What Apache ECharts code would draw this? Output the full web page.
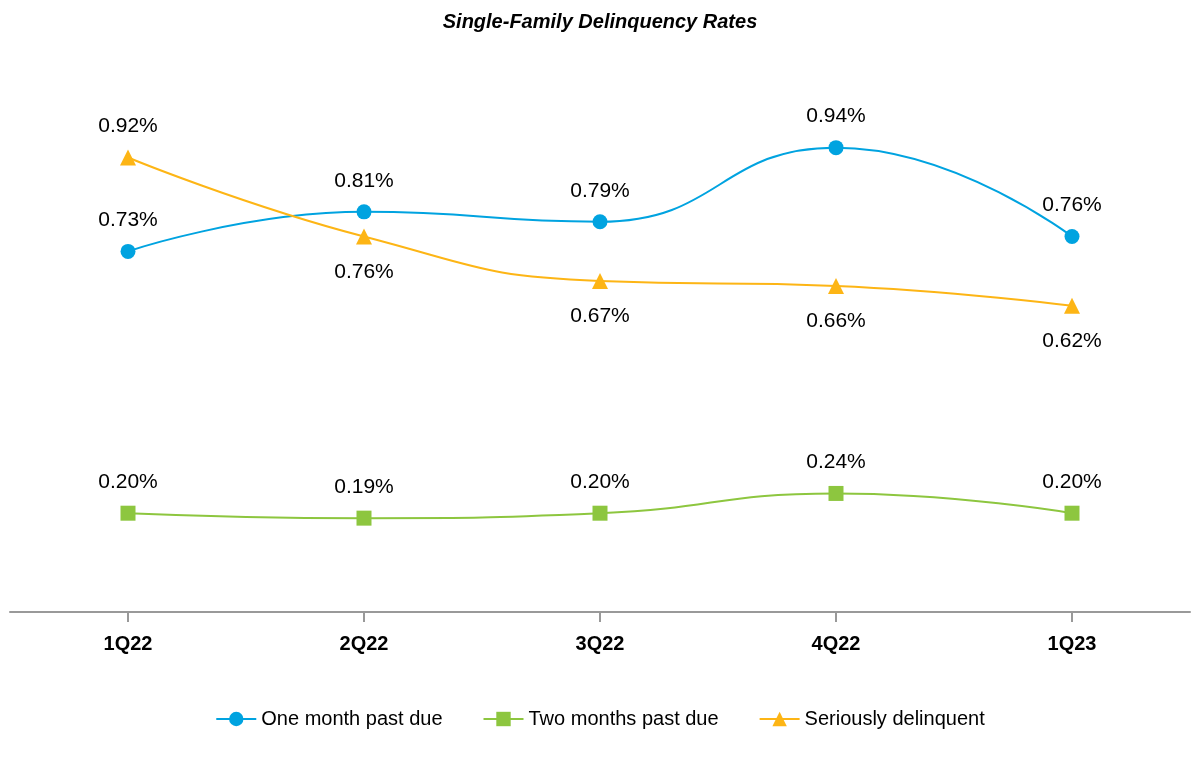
<!DOCTYPE html>
<html><head><meta charset="utf-8">
<script src="https://cdn.jsdelivr.net/npm/echarts@6/dist/echarts.min.js"></script>
<style>html,body{margin:0;padding:0;background:#fff}#c{width:1200px;height:760px}</style>
</head><body><div id="c"></div>
<script>
const categories = ['1Q22','2Q22','3Q22','4Q22','1Q23'];
const oneMonth = [0.73,0.81,0.79,0.94,0.76];
const twoMonths = [0.20,0.19,0.20,0.24,0.20];
const serious = [0.92,0.76,0.67,0.66,0.62];
const seriesNames = ['One month past due','Two months past due','Seriously delinquent'];
const FONT = '"Liberation Sans Narrow", "Liberation Sans", Roboto, sans-serif';
const chart = echarts.init(document.getElementById('c'));
const lbl = (pos, d) => ({show:true, position:pos, distance:d, color:'#000', fontSize:21, fontFamily:FONT,
  formatter:p=>p.value.toFixed(2)+'%'});
chart.setOption({
  animation:false,
  title:{text:'Single-Family Delinquency Rates', left:'center', top:7,
    textStyle:{fontFamily:FONT, fontSize:20, fontWeight:'bold', fontStyle:'italic', color:'#000'}},
  legend:{bottom:26, left:'center', itemGap:40, itemWidth:40, itemHeight:18,
    textStyle:{fontFamily:FONT, fontSize:20, color:'#000'}, data:seriesNames},
  grid:{left:10, right:10, top:118, bottom:148, containLabel:false},
  xAxis:{type:'category', data:categories, boundaryGap:true,
    axisLine:{show:true, lineStyle:{color:'#999', width:2}},
    axisTick:{show:true, alignWithLabel:true, length:10, lineStyle:{color:'#999', width:2}},
    axisLabel:{fontFamily:FONT, fontSize:20, fontWeight:'bold', color:'#000', margin:22}},
  yAxis:{type:'value', min:0, max:1.0, show:false, splitLine:{show:false}},
  series:[
    {name:seriesNames[0], type:'line', data:oneMonth, smooth:true, symbol:'circle', symbolSize:15,
      itemStyle:{color:'#00A3E0'}, lineStyle:{width:2}, label:lbl('top',13)},
    {name:seriesNames[1], type:'line', smooth:true, symbol:'rect', symbolSize:15,
      itemStyle:{color:'#8DC63F'}, lineStyle:{width:2}, label:lbl('top',13), data:twoMonths},
    {name:seriesNames[2], type:'line', smooth:true, symbol:'triangle', symbolSize:16,
      itemStyle:{color:'#FDB515'}, lineStyle:{width:2},
      label:lbl('bottom',17),
      data: serious.map((v,i)=> i===0 ? {value:v, label:{position:'top', distance:13}} : v)}
  ]
});
</script></body></html>
